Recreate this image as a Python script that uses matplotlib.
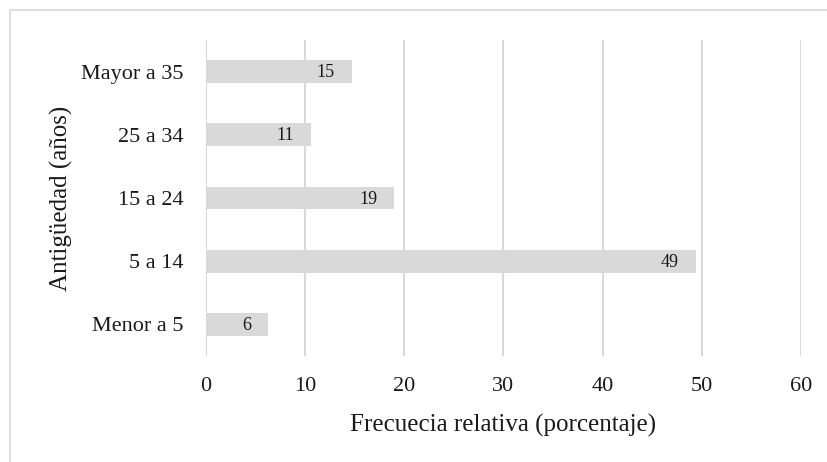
import matplotlib
matplotlib.use('Agg')
import matplotlib.pyplot as plt
from matplotlib.lines import Line2D

# Antigüedad de los encuestados (porcentaje por rango de años)
categorias = ['Menor a 5', '5 a 14', '15 a 24', '25 a 34', 'Mayor a 35']
frecuencias = [6.3, 49.4, 19.0, 10.6, 14.7]
ticks_x = [0, 10, 20, 30, 40, 50, 60]

GRIS = '#d9d9d9'
TEXTO = '#1a1a1a'

plt.rcParams['font.family'] = ['Liberation Serif', 'DejaVu Serif']

fig = plt.figure(figsize=(8.28, 4.62), dpi=100)
ax = fig.add_axes([206 / 828, 106 / 462, 595 / 828, 316 / 462])

y = range(len(categorias))
barras = ax.barh(y, frecuencias, height=0.36, color=GRIS, zorder=2)

# etiquetas de valor dentro del extremo de cada barra
for barra, valor in zip(barras, frecuencias):
    ax.annotate(f'{valor:.0f}', xy=(barra.get_width(), barra.get_y() + barra.get_height() / 2),
                xytext=(-17, -1), textcoords='offset pixels',
                ha='right', va='center', fontsize=13, color=TEXTO, zorder=3)

ax.set_xlim(0, 60)
ax.set_ylim(-0.5, len(categorias) - 0.5)
ax.set_xticks(ticks_x)
ax.set_yticks(list(y))
ax.set_yticklabels(categorias)
ax.tick_params(axis='both', length=0, labelsize=16, colors=TEXTO)
ax.tick_params(axis='x', pad=15)
ax.tick_params(axis='y', pad=16)
ax.grid(axis='x', color=GRIS, linewidth=1.5, zorder=1)
for lado in ax.spines.values():
    lado.set_visible(False)

ax.set_xlabel('Frecuecia relativa (porcentaje)', fontsize=18, color=TEXTO, labelpad=13)
ax.set_ylabel('Antigüedad (años)', fontsize=18, color=TEXTO, labelpad=6)

# marco del área del gráfico (solo bordes superior e izquierdo visibles)
fig.add_artist(Line2D([10 / 828, 10 / 828], [0, 452 / 462], color=GRIS, linewidth=1.2,
                      transform=fig.transFigure))
fig.add_artist(Line2D([10 / 828, 1], [452 / 462, 452 / 462], color=GRIS, linewidth=1.2,
                      transform=fig.transFigure))

fig.savefig('out.png', dpi=100)
